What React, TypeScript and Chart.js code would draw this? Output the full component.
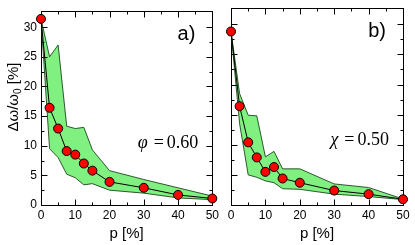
import React, { useEffect, useRef } from 'react';
import { Chart, registerables } from 'chart.js';

Chart.register(...registerables);

// ---- data ----
const pValues = [0, 2.5, 5, 7.5, 10, 12.5, 15, 20, 30, 40, 50];

const phiMean = [31.4, 16.4, 12.9, 9.1, 8.5, 7.0, 5.8, 3.9, 2.9, 1.7, 1.1];
const phiUpper = [31.4, 25.0, 27.0, 13.3, 12.9, 13.1, 9.3, 5.8, 4.3, 2.9, 1.5];
const phiLower = [31.4, 9.5, 8.0, 5.2, 4.6, 3.4, 3.6, 2.5, 2.0, 1.2, 0.9];

const chiMean = [28.8, 16.4, 10.4, 7.9, 5.5, 6.3, 4.4, 3.7, 2.4, 1.8, 0.95];
const chiUpper = [28.8, 18.5, 14.9, 14.8, 8.0, 8.9, 6.0, 6.0, 3.5, 2.9, 1.0];
const chiLower = [28.8, 13.5, 5.0, 4.6, 4.0, 3.7, 2.7, 2.6, 1.8, 1.4, 0.9];

const xTickValues = [0, 10, 20, 30, 40, 50];
const xMinorTicks = [5, 15, 25, 35, 45];
const yTickValues = [0, 5, 10, 15, 20, 25, 30];
const yMinorTicks = [2.5, 7.5, 12.5, 17.5, 22.5, 27.5];
const xMin = 0;
const xMax = 50;
const yMin = 0;
const yMax = 32.7;

const bandFill = '#80f080';
const bandEdge = 'rgba(20,60,20,0.85)';
const SANS = '"Liberation Sans", Arial, sans-serif';
const SERIF = '"Liberation Serif", "Times New Roman", serif';

function toPoints(ys: number[]) {
  return pValues.map((p, i) => ({ x: p, y: ys[i] }));
}

const frameTicksPlugin = {
  id: 'frameTicks',
  beforeDatasetsDraw(chart: any) {
    const { ctx, chartArea: a } = chart;
    const xs = chart.scales.x;
    const ys = chart.scales.y;
    const L = Math.round(a.left) + 0.5;
    const R = Math.round(a.right) + 0.5;
    const T = Math.round(a.top) + 0.5;
    const B = Math.round(a.bottom) + 0.5;
    ctx.save();
    ctx.strokeStyle = '#000';
    ctx.lineWidth = 1;
    ctx.beginPath();
    const xt = (vals: number[], len: number) => {
      vals.forEach((v) => {
        const px = Math.round(xs.getPixelForValue(v)) + 0.5;
        ctx.moveTo(px, B);
        ctx.lineTo(px, B - len);
        ctx.moveTo(px, T);
        ctx.lineTo(px, T + len);
      });
    };
    const yt = (vals: number[], len: number) => {
      vals.forEach((v) => {
        const py = Math.round(ys.getPixelForValue(v)) + 0.5;
        ctx.moveTo(L, py);
        ctx.lineTo(L + len, py);
        ctx.moveTo(R, py);
        ctx.lineTo(R - len, py);
      });
    };
    xt(xTickValues, 6);
    xt(xMinorTicks, 3);
    yt(yTickValues, 6);
    yt(yMinorTicks, 3);
    ctx.stroke();
    ctx.strokeRect(L, T, R - L, B - T);
    ctx.restore();
  },
};

const panelTextPlugin = {
  id: 'panelText',
  afterDraw(chart: any, _args: any, opts: any) {
    const { ctx, chartArea: a } = chart;
    ctx.save();
    ctx.fillStyle = '#000';
    // panel letter
    ctx.font = `20px ${SANS}`;
    ctx.textAlign = 'right';
    ctx.textBaseline = 'alphabetic';
    ctx.fillText(opts.letter, a.right - 17, a.top + 29);

    // parameter text
    const baseY = a.top + 137;
    ctx.font = `18px ${SERIF}`;
    const num = opts.value;
    const wNum = ctx.measureText(num).width;
    let xr = a.right - 14;
    ctx.fillText(num, xr, baseY);
    xr -= wNum + 3;
    ctx.fillText('=', xr, baseY);
    const wEq = ctx.measureText('=').width;
    xr -= wEq + 6;
    ctx.font = `italic 18px ${SERIF}`;
    ctx.fillText(opts.symbol, xr, baseY);

    // x title
    ctx.font = `15px ${SANS}`;
    ctx.textAlign = 'center';
    ctx.fillText('p [%]', (a.left + a.right) / 2, a.bottom + 33);

    // y title
    if (opts.yTitle) {
      const main = 'Δω/ω';
      const sub = '0';
      const tail = ' [%]';
      ctx.font = `15px ${SANS}`;
      const w1 = ctx.measureText(main).width;
      const w3 = ctx.measureText(tail).width;
      ctx.font = `10px ${SANS}`;
      const w2 = ctx.measureText(sub).width;
      const total = w1 + w2 + w3;
      ctx.translate(a.left - 23, (a.top + a.bottom) / 2 - 11);
      ctx.rotate(-Math.PI / 2);
      ctx.textAlign = 'left';
      let x0 = -total / 2;
      ctx.font = `15px ${SANS}`;
      ctx.fillText(main, x0, 0);
      x0 += w1;
      ctx.font = `10px ${SANS}`;
      ctx.fillText(sub, x0, 3);
      x0 += w2;
      ctx.font = `15px ${SANS}`;
      ctx.fillText(tail, x0, 0);
    }
    ctx.restore();
  },
};

function makeConfig(
  mean: number[],
  upper: number[],
  lower: number[],
  panel: { letter: string; symbol: string; value: string; yTitle: boolean },
  padding: any,
  yWidth: number
): any {
  return {
    type: 'line',
    data: {
      datasets: [
        {
          data: toPoints(mean),
          borderColor: '#000',
          borderWidth: 1,
          pointRadius: 4.5,
          pointBackgroundColor: '#ff0000',
          pointBorderColor: '#000',
          pointBorderWidth: 1,
          fill: false,
          clip: false,
          tension: 0,
        },
        {
          data: toPoints(upper),
          borderColor: bandEdge,
          borderWidth: 1,
          pointRadius: 0,
          fill: '+1',
          backgroundColor: bandFill,
          clip: false,
          tension: 0,
        },
        {
          data: toPoints(lower),
          borderColor: bandEdge,
          borderWidth: 1,
          pointRadius: 0,
          fill: false,
          clip: false,
          tension: 0,
        },
      ],
    },
    options: {
      animation: false,
      responsive: false,
      events: [],
      layout: { padding },
      plugins: {
        legend: { display: false },
        tooltip: { enabled: false },
        filler: { drawTime: 'beforeDatasetsDraw' },
        panelText: panel,
      },
      scales: {
        x: {
          type: 'linear',
          min: xMin,
          max: xMax,
          grid: { display: false, drawTicks: false },
          border: { display: false },
          afterBuildTicks: (s: any) => {
            s.ticks = xTickValues.map((v) => ({ value: v }));
          },
          ticks: {
            font: { family: SANS, size: 12 },
            color: '#000',
            padding: 3,
            maxRotation: 0,
            autoSkip: false,
          },
          afterFit: (s: any) => {
            s.height = 40;
          },
        },
        y: {
          type: 'linear',
          min: yMin,
          max: yMax,
          grid: { display: false, drawTicks: false },
          border: { display: false },
          afterBuildTicks: (s: any) => {
            s.ticks = yTickValues.map((v) => ({ value: v }));
          },
          ticks: {
            display: panel.yTitle,
            font: { family: SANS, size: 12 },
            color: '#000',
            padding: 4,
            autoSkip: false,
          },
          afterFit: (s: any) => {
            s.width = yWidth;
          },
        },
      },
    },
    plugins: [frameTicksPlugin, panelTextPlugin],
  };
}

export default function App() {
  const leftRef = useRef<HTMLCanvasElement>(null);
  const rightRef = useRef<HTMLCanvasElement>(null);

  useEffect(() => {
    const c1 = new Chart(
      leftRef.current as HTMLCanvasElement,
      makeConfig(
        phiMean,
        phiUpper,
        phiLower,
        { letter: 'a)', symbol: 'φ', value: '0.60', yTitle: true },
        { top: 8, right: 8, left: 0, bottom: 0 },
        41
      )
    );
    const c2 = new Chart(
      rightRef.current as HTMLCanvasElement,
      makeConfig(
        chiMean,
        chiUpper,
        chiLower,
        { letter: 'b)', symbol: 'χ', value: '0.50', yTitle: false },
        { top: 8, right: 12, left: 0, bottom: 0 },
        9
      )
    );
    return () => {
      c1.destroy();
      c2.destroy();
    };
  }, []);

  return (
    <div
      style={{
        position: 'absolute',
        left: 0,
        top: 0,
        width: 415,
        height: 245,
        background: '#fff',
        overflow: 'hidden',
      }}
    >
      <canvas
        ref={leftRef}
        width={222}
        height={245}
        style={{ position: 'absolute', left: 0, top: 0, width: 222, height: 245 }}
      />
      <canvas
        ref={rightRef}
        width={193}
        height={245}
        style={{ position: 'absolute', left: 222, top: 0, width: 193, height: 245 }}
      />
    </div>
  );
}
